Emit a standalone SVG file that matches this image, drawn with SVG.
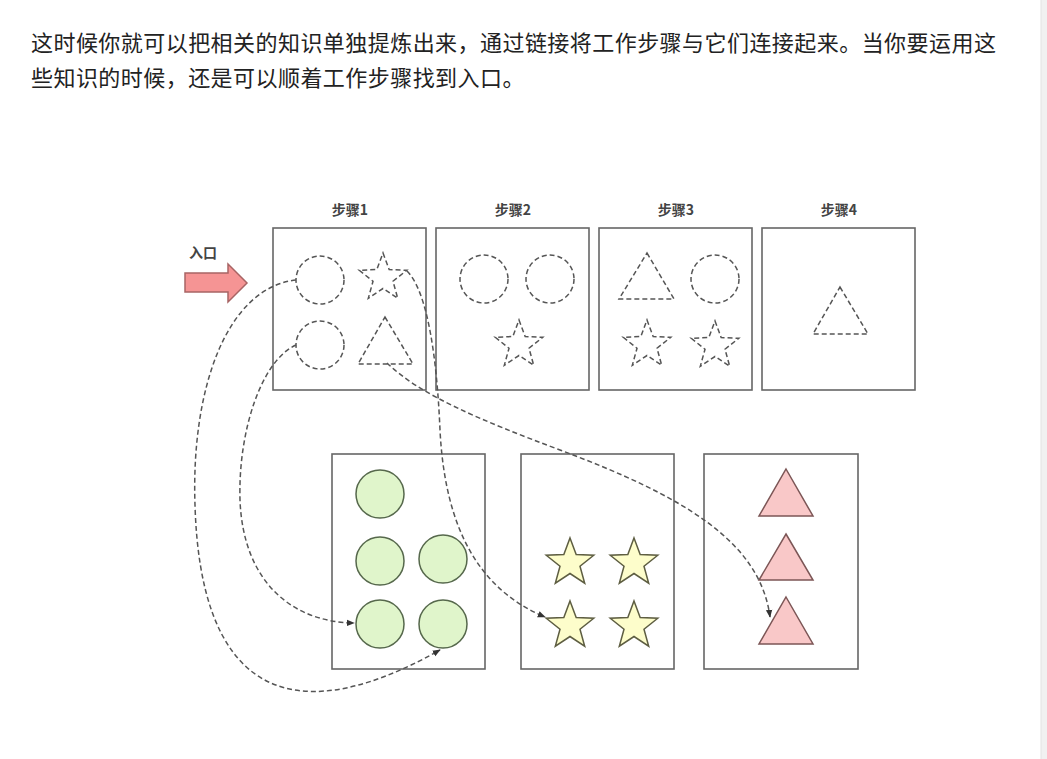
<svg xmlns="http://www.w3.org/2000/svg" width="1047" height="759" viewBox="0 0 1047 759">
<style>
.para{font-family:"Noto Sans CJK SC","Liberation Sans",sans-serif;font-size:22px;fill:#222;letter-spacing:0.45px}
.lbl{font-family:"Noto Sans CJK SC","Liberation Sans",sans-serif;font-size:14px;fill:#444;font-weight:bold;text-anchor:middle}
.box{fill:#fff;stroke:#666;stroke-width:1.6}
.dash{fill:none;stroke:#555;stroke-width:1.5;stroke-dasharray:5 3}
.circ{fill:#e0f5cb;stroke:#56684c;stroke-width:1.5}
.star{fill:#fdfdcb;stroke:#5e5e42;stroke-width:1.5}
.tri{fill:#f9c8c8;stroke:#7c5656;stroke-width:1.5}
.conn{fill:none;stroke:#555;stroke-width:1.5;stroke-dasharray:5 3}
</style>
<defs>
<path id="st" d="M0,-25 L6.17,-8.49 L23.78,-7.73 L9.99,3.24 L14.69,20.23 L0,10.5 L-14.69,20.23 L-9.99,3.24 L-23.78,-7.73 L-6.17,-8.49 Z"/>
<marker id="ah" viewBox="0 0 10 10" refX="9" refY="5" markerWidth="8" markerHeight="8" markerUnits="userSpaceOnUse" orient="auto">
<path d="M0,1 L10,5 L0,9 Z" fill="#333"/>
</marker>
</defs>
<rect x="0" y="0" width="1047" height="759" fill="#fff"/>
<rect x="1041" y="0" width="6" height="759" fill="#f1f1f1"/>
<line x1="1041" y1="0" x2="1041" y2="759" stroke="#e3e3e3"/>
<text class="para" x="31" y="51">这时候你就可以把相关的知识单独提炼出来，通过链接将工作步骤与它们连接起来。当你要运用这</text>
<text class="para" x="31" y="86">些知识的时候，还是可以顺着工作步骤找到入口。</text>

<g id="entry">
<text class="lbl" x="203" y="258">入口</text>
<polygon points="185,273 228,273 228,264 247,283 228,302 228,292 185,292" fill="#f59494" stroke="#a86464" stroke-width="1.5"/>
</g>

<g id="step1">
<text class="lbl" x="350" y="215">步骤1</text>
<rect class="box" x="273" y="228" width="153" height="162"/>
<circle class="dash" cx="320" cy="280" r="24"/>
<use href="#st" class="dash" transform="translate(383,278)"/>
<circle class="dash" cx="320" cy="345" r="24"/>
<polygon class="dash" points="385,317 413,364 358,364"/>
</g>
<g id="step2">
<text class="lbl" x="513" y="215">步骤2</text>
<rect class="box" x="436" y="228" width="153" height="162"/>
<circle class="dash" cx="484" cy="279" r="24"/>
<circle class="dash" cx="550" cy="279" r="24"/>
<use href="#st" class="dash" transform="translate(519,345)"/>
</g>
<g id="step3">
<text class="lbl" x="676" y="215">步骤3</text>
<rect class="box" x="599" y="228" width="153" height="162"/>
<polygon class="dash" points="647,253 674,299 619,299"/>
<circle class="dash" cx="715" cy="279" r="24"/>
<use href="#st" class="dash" transform="translate(647,345)"/>
<use href="#st" class="dash" transform="translate(715,346)"/>
</g>
<g id="step4">
<text class="lbl" x="839" y="215">步骤4</text>
<rect class="box" x="762" y="228" width="153" height="162"/>
<polygon class="dash" points="840,287 868,334 813,334"/>
</g>

<g id="circles">
<rect class="box" x="332" y="454" width="153" height="215"/>
<circle class="circ" cx="380" cy="494" r="24"/>
<circle class="circ" cx="380" cy="561" r="24"/>
<circle class="circ" cx="443" cy="559" r="24"/>
<circle class="circ" cx="380" cy="624" r="24"/>
<circle class="circ" cx="443" cy="624" r="24"/>
</g>
<g id="stars">
<rect class="box" x="521" y="454" width="153" height="215"/>
<use href="#st" class="star" transform="translate(570,563)"/>
<use href="#st" class="star" transform="translate(634,563)"/>
<use href="#st" class="star" transform="translate(570,626)"/>
<use href="#st" class="star" transform="translate(634,626)"/>
</g>
<g id="triangles">
<rect class="box" x="704" y="454" width="154" height="215"/>
<polygon class="tri" points="786,469 813,516 759,516"/>
<polygon class="tri" points="786,534 813,580 759,580"/>
<polygon class="tri" points="786,597 813,644 759,644"/>
</g>

<g id="connectors">
<path class="conn" marker-end="url(#ah)" d="M296,280 C226,288 191,390 195,505 C200,680 280,740 440,650"/>
<path class="conn" marker-end="url(#ah)" d="M296,345 C262,360 238,430 240,500 C243,580 290,622 354,623"/>
<path class="conn" marker-end="url(#ah)" d="M407,271 C428,292 437,360 440,430 C445,530 480,590 545,617"/>
<path class="conn" marker-end="url(#ah)" d="M387,363 C420,395 480,420 560,450 C680,495 760,540 770,617"/>
</g>
</svg>
